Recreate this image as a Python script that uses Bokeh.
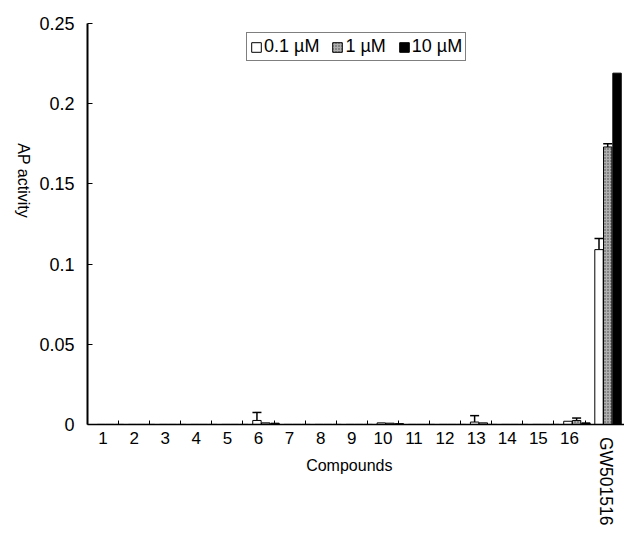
import numpy as np
from math import pi
from bokeh.plotting import figure
from bokeh.models import (ColumnDataSource, Whisker, Label, Legend, LegendItem,
                          FixedTicker, Range1d, TeeHead)
from bokeh.embed import file_html
from bokeh.resources import INLINE

compounds = ["1", "2", "3", "4", "5", "6", "7", "8", "9", "10",
             "11", "12", "13", "14", "15", "16", "GW501516"]
series = ["0.1 µM", "1 µM", "10 µM"]
low_vals = [0, 0, 0, 0, 0, 0.0025, 0, 0, 0, 0.001, 0, 0, 0.0015, 0, 0, 0.002, 0.109]
low_err = [0, 0, 0, 0, 0, 0.005, 0, 0, 0, 0, 0, 0, 0.004, 0, 0, 0, 0.007]
mid_vals = [0, 0, 0, 0, 0, 0.001, 0, 0, 0, 0.0008, 0, 0, 0.001, 0, 0, 0.0025, 0.173]
mid_err = [0, 0, 0, 0, 0, 0, 0, 0, 0, 0, 0, 0, 0, 0, 0, 0.0015, 0.002]
high_vals = [0, 0, 0, 0, 0, 0.0008, 0, 0, 0, 0.0005, 0, 0, 0, 0, 0, 0.001, 0.219]
high_err = [0] * 17
y_ticks = [0, 0.05, 0.1, 0.15, 0.2, 0.25]
y_tick_labels = ["0", "0.05", "0.1", "0.15", "0.2", "0.25"]

FONT = "Liberation Sans"
pos = np.arange(1, len(compounds) + 1)

# whole figure is the frame; axes are pinned inside it so that the
# rotated labels outside the data area can be drawn as well
p = figure(width=624, height=530, output_backend="svg", toolbar_location=None,
           x_range=Range1d(-2.297, 17.77), y_range=Range1d(-0.0661, 0.2643),
           min_border=0)
p.xgrid.visible = False
p.ygrid.visible = False
p.outline_line_color = None
p.background_fill_color = "white"
p.border_fill_color = "white"

offsets = [-0.05, 0.23, 0.53]
fills = ["white", "#b0b0b0", "black"]
vals = [low_vals, mid_vals, high_vals]
errs = [low_err, mid_err, high_err]
renderers = []
for off, fc, v, e, name in zip(offsets, fills, vals, errs, series):
    src = ColumnDataSource(dict(x=pos + off, top=v))
    kw = {}
    if fc == "#b0b0b0":
        kw = dict(hatch_pattern="dot", hatch_color="#404040", hatch_scale=3)
    r = p.vbar(x="x", top="top", width=0.27, bottom=0, source=src,
               fill_color=fc, line_color="black", line_width=1, **kw)
    renderers.append(r)
    keep = [i for i, ee in enumerate(e) if ee > 0]
    esrc = ColumnDataSource(dict(x=[pos[i] + off for i in keep],
                                 base=[v[i] for i in keep],
                                 upper=[v[i] + e[i] for i in keep]))
    w = Whisker(source=esrc, base="x", upper="upper", lower="base",
                dimension="height", line_color="black", line_width=1.5,
                upper_head=TeeHead(size=9, line_color="black", line_width=1.5),
                lower_head=None)
    p.add_layout(w)

# axes
xa = p.xaxis[0]
xa.fixed_location = 0
xa.bounds = (0.5, 17.77)
xa.ticker = FixedTicker(ticks=list(pos), minor_ticks=[i + 0.5 for i in range(1, 17)])
xa.major_label_overrides = {int(i): c for i, c in zip(pos, compounds[:-1])}
xa.major_label_overrides[17] = ""
xa.major_tick_in = 0
xa.major_tick_out = 0
xa.minor_tick_in = 4
xa.minor_tick_out = 0
xa.minor_tick_line_color = "black"
xa.axis_line_width = 1.5
xa.axis_line_color = "black"
xa.major_label_text_font = FONT
xa.major_label_text_font_size = "17px"
xa.major_label_text_color = "black"
xa.major_label_standoff = 8

ya = p.yaxis[0]
ya.fixed_location = 0.5
ya.bounds = (0, 0.25)
ya.ticker = FixedTicker(ticks=y_ticks)
ya.major_label_overrides = {t: l for t, l in zip(y_ticks, y_tick_labels)}
ya.major_tick_in = 5
ya.major_tick_out = 0
ya.minor_tick_line_color = None
ya.axis_line_width = 2
ya.axis_line_color = "black"
ya.major_label_text_font = FONT
ya.major_label_text_font_size = "18px"
ya.major_label_text_color = "black"
ya.major_label_standoff = 13

# labels
p.add_layout(Label(x=17.16, y=-0.0078, text=compounds[-1], angle=-pi / 2,
                   text_align="left", text_baseline="middle",
                   text_font=FONT, text_font_size="17.5px", text_color="black"))
p.add_layout(Label(x=-1.56, y=0.152, text="AP activity", angle=-pi / 2,
                   text_align="center", text_baseline="middle",
                   text_font=FONT, text_font_size="16px", text_color="black"))
p.add_layout(Label(x=8.92, y=-0.0256, text="Compounds",
                   text_align="center", text_baseline="middle",
                   text_font=FONT, text_font_size="16px", text_color="black"))

legend = Legend(items=[LegendItem(label=s, renderers=[r]) for s, r in zip(series, renderers)],
                orientation="horizontal", location=(246, 469),
                label_text_font=FONT, label_text_font_size="18px",
                label_text_color="black", glyph_width=12, glyph_height=12,
                label_standoff=2, spacing=12, padding=3, margin=0,
                border_line_color="black", border_line_width=1.5,
                background_fill_alpha=1)
p.add_layout(legend)

open("out.html", "w").write(file_html(p, INLINE))
